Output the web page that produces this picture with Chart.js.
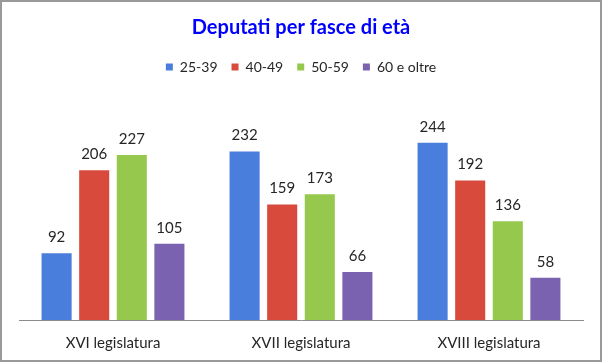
<!DOCTYPE html>
<html>
<head>
<meta charset="utf-8">
<script src="https://cdn.jsdelivr.net/npm/chart.js@4"></script>
<style>
  body { margin: 0; background: #fff; }
  #wrap { width: 598px; height: 358px; border: 2px solid #999; position: relative; }
</style>
</head>
<body>
<div id="wrap"><canvas id="myChart" width="598" height="358"></canvas></div>
<script>
const labels = ['XVI legislatura', 'XVII legislatura', 'XVIII legislatura'];
const eta2539 = [92, 232, 244];
const eta4049 = [206, 159, 192];
const eta5059 = [227, 173, 136];
const eta60 = [105, 66, 58];

const seriesConfig = [
  { label: '25-39', data: eta2539, color: '#4a7edc' },
  { label: '40-49', data: eta4049, color: '#d84a3c' },
  { label: '50-59', data: eta5059, color: '#96c84e' },
  { label: '60 e oltre', data: eta60, color: '#7a62b0' },
];

// scrive il valore sopra ogni barra
const valueLabels = {
  id: 'valueLabels',
  afterDatasetsDraw(chart) {
    const ctx = chart.ctx;
    ctx.save();
    ctx.font = '15px Lato';
    ctx.fillStyle = '#262626';
    ctx.textAlign = 'center';
    ctx.textBaseline = 'middle';
    chart.data.datasets.forEach((ds, i) => {
      chart.getDatasetMeta(i).data.forEach((bar, j) => {
        ctx.fillText(ds.data[j], bar.x, bar.y - 16);
      });
    });
    ctx.restore();
  },
};

// spazio extra sotto la legenda
const legendSpace = {
  id: 'legendSpace',
  beforeInit(chart) {
    const fit = chart.legend.fit;
    chart.legend.fit = function () {
      fit.bind(chart.legend)();
      this.height += 18;
    };
  },
};

const ctx = document.getElementById('myChart').getContext('2d');
new Chart(ctx, {
  type: 'bar',
  data: {
    labels: labels,
    datasets: seriesConfig.map(s => ({
      label: s.label,
      data: s.data,
      backgroundColor: s.color,
      borderWidth: 0,
      categoryPercentage: 0.8,
      barPercentage: 0.8,
    })),
  },
  options: {
    responsive: false,
    animation: false,
    layout: { padding: { left: 17, right: 17, top: 8, bottom: 2 } },
    scales: {
      x: {
        grid: { display: false },
        border: { display: true, color: '#8c8c8c', width: 1 },
        ticks: { color: '#262626', font: { family: 'Lato', size: 15 }, padding: 6 },
      },
      y: { display: false, min: 0, max: 300 },
    },
    plugins: {
      title: {
        display: true,
        text: 'Deputati per fasce di età',
        color: '#0000ff',
        font: { family: 'Lato', size: 20, weight: 'bold' },
        padding: { top: 6, bottom: 6 },
      },
      legend: {
        display: true,
        position: 'top',
        labels: {
          boxWidth: 7,
          boxHeight: 7,
          color: '#262626',
          font: { family: 'Lato', size: 14 },
          padding: 14,
        },
      },
      tooltip: { enabled: false },
    },
  },
  plugins: [valueLabels, legendSpace],
});
</script>
</body>
</html>
